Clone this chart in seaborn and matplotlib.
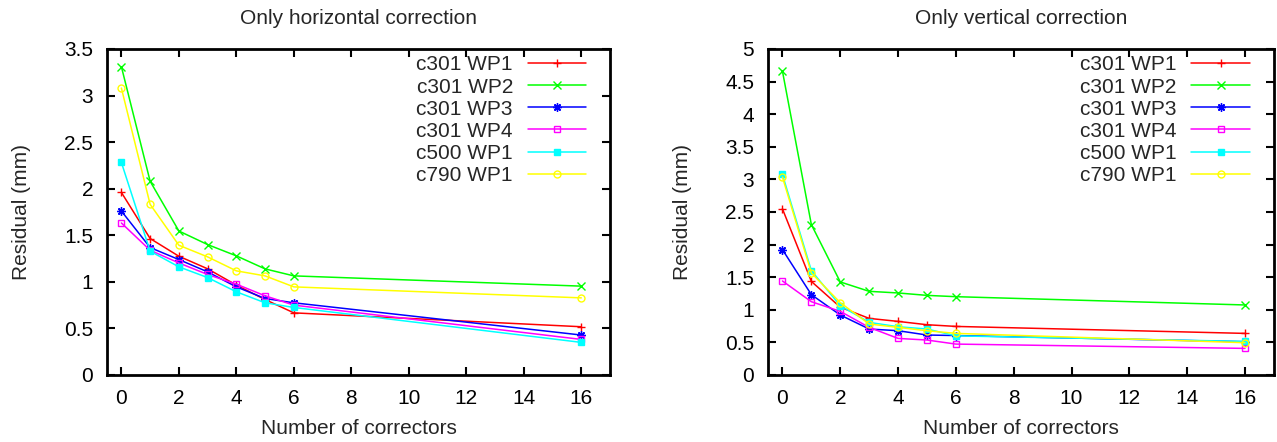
import matplotlib
matplotlib.use("Agg")
import matplotlib.pyplot as plt
import seaborn as sns
import pandas as pd

sns.set_style("ticks")
plt.rcParams['font.family'] = ['Liberation Sans', 'DejaVu Sans']

correctors = [0, 1, 2, 3, 4, 5, 6, 16]
labels = ["c301 WP1", "c301 WP2", "c301 WP3", "c301 WP4", "c500 WP1", "c790 WP1"]

# Only horizontal correction
h_c301_wp1 = [1.96, 1.465, 1.275, 1.14, 0.965, 0.81, 0.667, 0.518]
h_c301_wp2 = [3.31, 2.08, 1.546, 1.40, 1.279, 1.139, 1.064, 0.954]
h_c301_wp3 = [1.76, 1.368, 1.239, 1.107, 0.946, 0.821, 0.775, 0.429]
h_c301_wp4 = [1.632, 1.339, 1.203, 1.079, 0.975, 0.85, 0.75, 0.382]
h_c500_wp1 = [2.282, 1.329, 1.161, 1.046, 0.893, 0.775, 0.725, 0.35]
h_c790_wp1 = [3.08, 1.832, 1.393, 1.268, 1.118, 1.064, 0.946, 0.828]

# Only vertical correction
v_c301_wp1 = [2.548, 1.435, 1.04, 0.868, 0.822, 0.771, 0.745, 0.638]
v_c301_wp2 = [4.66, 2.307, 1.427, 1.283, 1.258, 1.221, 1.201, 1.074]
v_c301_wp3 = [1.923, 1.232, 0.92, 0.705, 0.679, 0.613, 0.605, 0.51]
v_c301_wp4 = [1.442, 1.124, 0.976, 0.73, 0.561, 0.536, 0.474, 0.408]
v_c500_wp1 = [3.075, 1.60, 1.063, 0.807, 0.74, 0.705, 0.60, 0.515]
v_c790_wp1 = [3.035, 1.565, 1.109, 0.782, 0.73, 0.679, 0.638, 0.495]

colors = ["#ff0000", "#00ff00", "#0000ff", "#ff00ff", "#00ffff", "#ffff00"]
markers = ["+", "x", (8, 2, 0), "s", "s", "o"]
filled = [True, True, True, False, True, False]
msizes = [6, 6, 6, 5, 5, 5]

horiz = [h_c301_wp1, h_c301_wp2, h_c301_wp3, h_c301_wp4, h_c500_wp1, h_c790_wp1]
vert = [v_c301_wp1, v_c301_wp2, v_c301_wp3, v_c301_wp4, v_c500_wp1, v_c790_wp1]

FS = 15
fig = plt.figure(figsize=(12.77, 4.42), dpi=100)
ax1 = fig.add_axes([0.0838, 0.1516, 0.3939, 0.7376])
ax2 = fig.add_axes([0.6014, 0.1516, 0.3962, 0.7376])


def draw(ax, series, title, ymax):
    for lab, vals, c, m, f, ms in zip(labels, series, colors, markers, filled, msizes):
        df = pd.DataFrame({"x": correctors, "y": vals})
        sns.lineplot(data=df, x="x", y="y", ax=ax, color=c, marker=m,
                     markersize=ms, markeredgecolor=c,
                     markerfacecolor=(c if f else "none"),
                     markeredgewidth=1.0, linewidth=1.1, label=lab)
    ax.set_xlim(-0.5, 17)
    ax.set_ylim(0, ymax)
    ax.set_xticks(range(0, 17, 2))
    yt = [i * 0.5 for i in range(int(ymax / 0.5) + 1)]
    ax.set_yticks(yt)
    ax.set_yticklabels([("%g" % v) for v in yt])
    ax.tick_params(direction="in", length=6, width=1.5, top=True, right=True,
                   labelsize=FS, pad=10, colors="black")
    for s in ax.spines.values():
        s.set_linewidth(2.0)
        s.set_color("black")
    ax.set_xlabel("Number of correctors", fontsize=FS, labelpad=8)
    ax.set_ylabel("Residual (mm)", fontsize=FS, labelpad=24)
    ax.set_title(title, fontsize=FS, pad=18)
    ax.legend(loc="upper right", frameon=False, fontsize=FS, markerfirst=False,
              handlelength=2.8, handletextpad=0.7, labelspacing=0.15,
              borderaxespad=0.3, bbox_to_anchor=(0.981, 1.025))


draw(ax1, horiz, "Only horizontal correction", 3.5)
draw(ax2, vert, "Only vertical correction", 5)

fig.savefig("out.png", dpi=100)
